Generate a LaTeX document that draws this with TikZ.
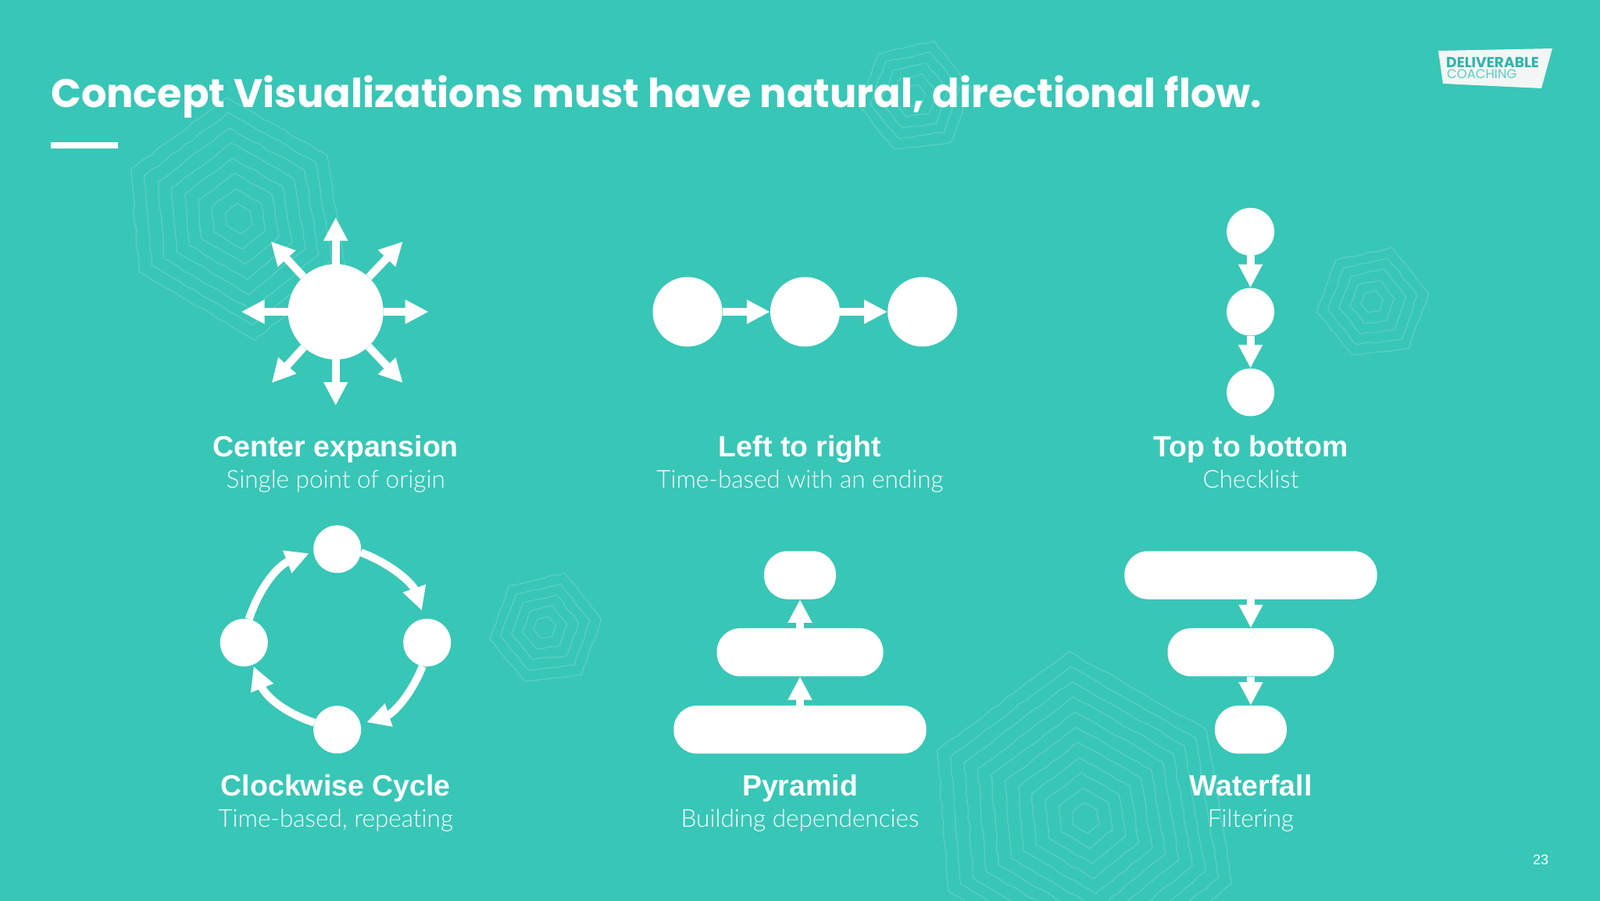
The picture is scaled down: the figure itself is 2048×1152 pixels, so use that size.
\documentclass[tikz,border=0pt]{standalone}
\usepackage{fontspec}
\usepackage{tikz}
\usetikzlibrary{arrows.meta,decorations.pathmorphing}
\setmainfont{Liberation Sans}
\newfontfamily\titlefont{Poppins}
\newfontfamily\lightfont{Lato Light}[Ligatures=NoCommon]
\definecolor{slide_teal}{HTML}{38C6B7}
\definecolor{logo_paper}{HTML}{F2F6F5}
\definecolor{logo_dark}{HTML}{30B5A8}
\definecolor{logo_light}{HTML}{5FCBC0}
\tikzstyle{node_hub} = [circle, fill=white, inner sep=0pt, minimum size=122bp]
\tikzstyle{node_big} = [circle, fill=white, inner sep=0pt, minimum size=89bp]
\tikzstyle{node_small} = [circle, fill=white, inner sep=0pt, minimum size=61bp]
\tikzstyle{node_pill} = [rectangle, rounded corners=30bp, fill=white, inner sep=0pt, minimum height=61.5bp]
\tikzstyle{edge_flow} = [draw=white, line width=10bp, -{Triangle[length=30bp,width=29bp,fill=white]}]
\tikzstyle{text_title} = [anchor=base west, white, inner sep=0pt, font=\titlefont\bfseries\fontsize{51.2}{60}\selectfont]
\tikzstyle{text_head} = [anchor=base, white, inner sep=0pt, font=\bfseries\fontsize{37.6}{44}\selectfont]
\tikzstyle{text_sub} = [anchor=base, white, inner sep=0pt, font=\lightfont\fontsize{31.6}{36}\selectfont]
\tikzstyle{contour_line} = [draw=white, draw opacity=0.17, line width=1.3pt, line join=round, decorate, decoration={random steps, segment length=11pt, amplitude=1.2pt}]
\newcommand{\ringshex}[3]{
	\foreach \k in {1,...,#3} {
		\draw[contour_line, shift={(#1,#2)}, scale=\k] (-2,-19.4)--(14,-10.3)--(17,7.6)--(2.5,19.4)--(-16,8.5)--(-17.3,-7.9)--(-2,-19.4);
	}
}
\newcommand{\ringstilt}[3]{
	\foreach \k in {1,...,#3} {
		\draw[contour_line, shift={(#1,#2)}, scale=\k] (5.2,-13.9)--(14.5,-2.1)--(9.5,12)--(-5.1,13.7)--(-14.1,2.7)--(-9.1,-10.7)--(5.2,-13.9);
	}
}
\begin{document}
\begin{tikzpicture}[x=1bp, y=-1bp]
		\useasboundingbox (0,0) rectangle (2048,1152);
		\fill[slide_teal] (-3,-3) rectangle (2051,1155);
		
		\ringshex{1390}{1047}{11}
		\ringshex{306}{280}{8}
		\ringstilt{1170}{122}{5}
		\ringstilt{697}{803}{5}
		\ringstilt{1756}{386}{5}
		
		\node (T) at (65,137) [text_title] {Concept Visualizations must have natural, directional flow.};
		\fill[white] (65,182) rectangle (151,190);
		
		\fill[logo_paper] (1841,65) -- (1987,62) -- (1973,113) -- (1847,107) -- cycle;
		\node (L1) at (1851,86) [anchor=base west, inner sep=0pt, logo_dark, font=\titlefont\bfseries\fontsize{18.7}{20}\selectfont] {DELIVERABLE};
		\node (L2) at (1852,100.5) [anchor=base west, inner sep=0pt, logo_light, font=\titlefont\fontsize{16.5}{18}\selectfont] {COACHING};
		
		\node (H) at (429.7,399) [node_hub] {};
		\foreach \dx/\dy [count=\i] in {119/0,86/-90,0/-121,-83/-90,-121/0,-82/91,0/120,86/91} {
			\coordinate (H\i) at ([shift={(\dx,\dy)}]H.center);
			\draw[edge_flow] (H) -- (H\i);
		}
		
		\node (A) at (880,399) [node_big] {};
		\node (B) at (1030.5,399) [node_big] {};
		\node (C) at (1180.7,399) [node_big] {};
		\draw[edge_flow] (A)--(B);
		\draw[edge_flow] (B)--(C);
		
		\node (D) at (1600.6,296.5) [node_small] {};
		\node (E) at (1600.6,399) [node_small] {};
		\node (F) at (1600.6,502) [node_small] {};
		\draw[edge_flow] (D)--(E);
		\draw[edge_flow] (E)--(F);
		
		\node (N) at (431.7,702.7) [node_small] {};
		\node (O) at (546.7,822.3) [node_small] {};
		\node (S) at (431.7,933.7) [node_small] {};
		\node (W) at (312.3,822.3) [node_small] {};
		\draw[edge_flow, shorten >=11bp] (N.-8) to[bend left=25] (O.96);
		\draw[edge_flow, shorten >=8bp] (O.-101) to[bend left=25] (S.13);
		\draw[edge_flow, shorten >=2bp] (S.163) to[bend left=25] (W.-68);
		\draw[edge_flow, shorten >=6bp] (W.78) to[bend left=25] (N.-174);
		
		\node (P1) at (1024,736) [node_pill, minimum width=92bp] {};
		\node (P2) at (1024,834.7) [node_pill, minimum width=213bp] {};
		\node (P3) at (1024,933.7) [node_pill, minimum width=323.4bp] {};
		\draw[edge_flow] (P3)--(P2);
		\draw[edge_flow] (P2)--(P1);
		
		\node (Q1) at (1601,736) [node_pill, minimum width=323.4bp] {};
		\node (Q2) at (1601,834.7) [node_pill, minimum width=213bp] {};
		\node (Q3) at (1601,933.7) [node_pill, minimum width=92bp] {};
		\draw[edge_flow] (Q1)--(Q2);
		\draw[edge_flow] (Q2)--(Q3);
		
		\node (H1) at (429.7,584) [text_head] {Center expansion};
		\node (H2) at (429.7,624) [text_sub] {Single point of origin};
		\node (B1) at (1024,584) [text_head] {Left to right};
		\node (B2) at (1024,624) [text_sub] {Time-based with an ending};
		\node (F1) at (1601,584) [text_head] {Top to bottom};
		\node (F2) at (1601,624) [text_sub] {Checklist};
		\node (N1) at (429.7,1018) [text_head] {Clockwise Cycle};
		\node (N2) at (429.7,1058) [text_sub] {Time-based, repeating};
		\node (P4) at (1024,1018) [text_head] {Pyramid};
		\node (P5) at (1024,1058) [text_sub] {Building dependencies};
		\node (Q4) at (1601,1018) [text_head] {Waterfall};
		\node (Q5) at (1601,1058) [text_sub] {Filtering};
		
		\node (G) at (1972,1106) [anchor=base, inner sep=0pt, white, font=\fontsize{18}{22}\selectfont] {23};
		\end{tikzpicture}
\end{document}
